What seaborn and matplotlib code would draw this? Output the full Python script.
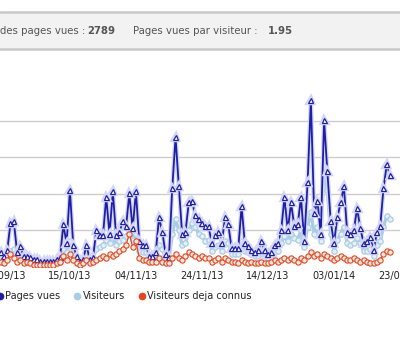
import pandas as pd
import numpy as np
import seaborn as sns
import matplotlib.pyplot as plt
import matplotlib.dates as mdates
import matplotlib.patheffects as pe
from matplotlib.lines import Line2D
from matplotlib.patches import Rectangle

# daily values, 23/09/13 -> 20/01/14
start = "2013-09-23"
pages_vues = [9, 8, 6, 9, 24, 25, 8, 11, 6, 6, 5, 4, 4, 3, 3, 3, 3, 3, 4, 5,
              23, 13, 42, 12, 6, 3, 4, 12, 4, 5, 20, 17, 17, 38, 18, 41, 17, 19, 25, 22,
              40, 21, 41, 14, 12, 12, 6, 6, 8, 27, 19, 7, 5, 43, 71, 44, 18, 19, 35, 36,
              28, 26, 24, 22, 22, 13, 17, 19, 13, 27, 23, 10, 10, 10, 33, 13, 11, 9, 8, 9,
              14, 9, 7, 8, 12, 13, 20, 38, 20, 35, 22, 23, 38, 14, 46, 91, 29, 36, 18, 80,
              52, 25, 13, 27, 35, 44, 19, 18, 20, 32, 21, 13, 14, 16, 9, 19, 22, 43, 56, 50]
visiteurs = [5, 5, 4, 5, 9, 10, 5, 6, 4, 4, 3, 3, 3, 2, 2, 2, 2, 2, 3, 3,
             10, 8, 14, 7, 4, 2, 3, 7, 3, 4, 10, 11, 12, 15, 13, 17, 12, 14, 15, 17,
             20, 15, 18, 9, 8, 8, 4, 4, 5, 12, 10, 5, 4, 18, 26, 20, 12, 13, 20, 24,
             22, 18, 17, 14, 15, 9, 11, 12, 9, 14, 13, 7, 7, 7, 14, 9, 8, 7, 6, 6,
             9, 6, 5, 6, 8, 9, 13, 17, 14, 18, 16, 15, 20, 11, 22, 30, 18, 22, 14, 55,
             42, 18, 9, 15, 18, 22, 13, 12, 13, 16, 13, 9, 9, 10, 6, 12, 14, 22, 28, 26]
deja_connus = [2, 3, 2, 4, 7, 5, 3, 4, 2, 3, 2, 1, 1, 1, 1, 1, 1, 1, 2, 3,
               6, 4, 7, 4, 2, 1, 2, 4, 2, 3, 4, 5, 6, 5, 7, 6, 7, 9, 10, 12,
               18, 11, 14, 5, 4, 4, 3, 3, 3, 5, 3, 2, 2, 5, 7, 5, 4, 6, 8, 7,
               6, 5, 6, 5, 5, 3, 4, 5, 3, 5, 4, 3, 3, 2, 4, 3, 2, 3, 2, 2,
               3, 2, 2, 3, 4, 3, 4, 5, 4, 5, 4, 3, 5, 4, 6, 8, 6, 7, 5, 7,
               6, 5, 4, 5, 6, 5, 4, 4, 5, 4, 3, 4, 3, 2, 2, 3, 4, 7, 9, 8]
tick_dates = ["2013-09-25", "2013-10-15", "2013-11-04", "2013-11-24",
              "2013-12-14", "2014-01-03", "2014-01-23"]

df = pd.DataFrame({
    "date": pd.date_range(start, periods=len(pages_vues), freq="D"),
    "pages": pages_vues,
    "visiteurs": visiteurs,
    "connus": deja_connus,
})

sns.set_style("white")
plt.rcParams['font.family'] = ['DejaVu Sans']

fig = plt.figure(figsize=(4.0, 3.52), dpi=100)
ax = fig.add_axes([0, (352 - 267) / 352, 1, (267 - 84) / 352])

c_blue = "#1f1fa6"
c_light = "#a9cde2"
c_red = "#e5461f"

sns.lineplot(data=df, x="date", y="visiteurs", ax=ax, color=c_light, lw=2.4,
             marker="o", markersize=3.8, markerfacecolor="#e4f0f7",
             markeredgecolor=c_light, markeredgewidth=0.9, zorder=2, legend=False)
sns.lineplot(data=df, x="date", y="pages", ax=ax, color=c_blue, lw=1.3,
             marker="^", markersize=3.6, markerfacecolor="white",
             markeredgecolor=c_blue, markeredgewidth=0.9, zorder=3, legend=False,
             path_effects=[pe.Stroke(linewidth=3.2, foreground="#d3d7f5"), pe.Normal()])
sns.lineplot(data=df, x="date", y="connus", ax=ax, color=c_red, lw=0.9,
             marker="o", markersize=3.8, markerfacecolor="#fde9df",
             markeredgecolor=c_red, markeredgewidth=0.8, zorder=4, legend=False)

day0 = pd.Timestamp("2013-09-25")
ax.set_xlim(day0 + pd.Timedelta(days=-1.18), day0 + pd.Timedelta(days=116.5))
ax.set_ylim(0, 100)
ax.set_yticks([20, 40, 60, 80])
ax.set_yticklabels([])
ax.yaxis.grid(True, color="#cccccc", lw=1)
ax.set_xticks(pd.to_datetime(tick_dates))
ax.xaxis.set_major_formatter(mdates.DateFormatter("%d/%m/%y"))
ax.tick_params(axis="x", length=0, pad=3, labelsize=7, colors="#222222")
ax.tick_params(axis="y", length=0)
ax.set_xlabel("")
ax.set_ylabel("")
for s in ax.spines.values():
    s.set_visible(False)

# header bar
fig.patches.append(Rectangle((0, (352 - 49) / 352), 1, 37 / 352, transform=fig.transFigure,
                             facecolor="#f2f2f2", edgecolor="none"))
for yy in [12, 49]:
    fig.add_artist(Line2D([0, 1], [(352 - yy) / 352] * 2, transform=fig.transFigure,
                          color="#c8c8c8", lw=1.8))
hy = (352 - 31) / 352
fig.text(0 / 400, hy, "des pages vues :", fontsize=7.3, color="#555555", va="center")
fig.text(87 / 400, hy, "2789", fontsize=7.3, color="#555555", va="center", weight="bold")
fig.text(133 / 400, hy, "Pages vues par visiteur :", fontsize=7.3, color="#555555", va="center")
fig.text(268 / 400, hy, "1.95", fontsize=7.3, color="#555555", va="center", weight="bold")

# legend
handles = [Line2D([], [], ls="none", marker="o", markersize=4.5, color=c) for c in [c_blue, c_light, c_red]]
fig.legend(handles, ["Pages vues", "Visiteurs", "Visiteurs deja connus"],
           loc="center left", bbox_to_anchor=(-3 / 400, (352 - 296) / 352), ncol=3,
           frameon=False, fontsize=7, handlelength=0.6, handletextpad=0.25,
           columnspacing=1.45, borderpad=0, borderaxespad=0)

fig.savefig("out.png", dpi=100)
